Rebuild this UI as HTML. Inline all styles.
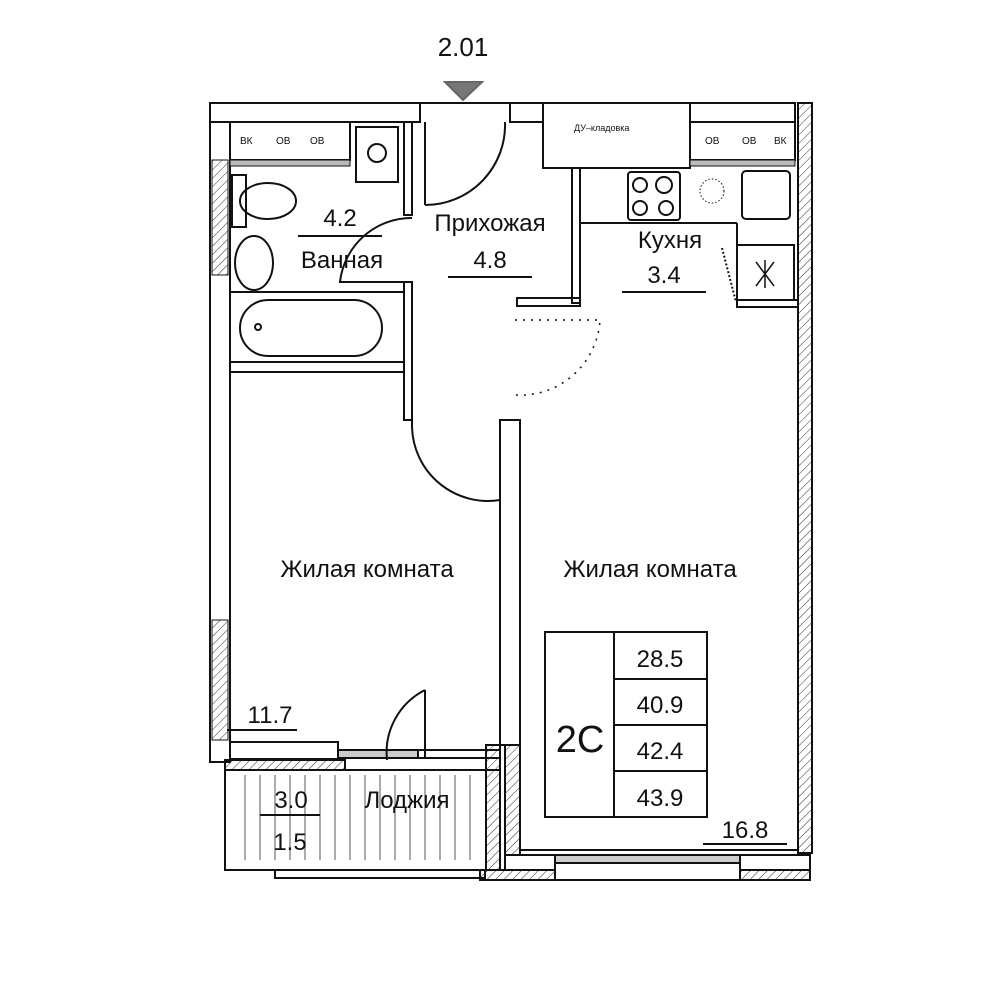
<!DOCTYPE html>
<html><head><meta charset="utf-8"><style>
html,body{margin:0;padding:0;background:#fff}
svg{display:block}
text{font-family:"Liberation Sans",sans-serif;fill:#111}
</style></head><body>
<svg width="1000" height="1000" viewBox="0 0 1000 1000" xmlns="http://www.w3.org/2000/svg">
<defs>
<pattern id="h" width="6" height="6" patternUnits="userSpaceOnUse" patternTransform="rotate(45)">
<line x1="0" y1="0" x2="0" y2="6" stroke="#333" stroke-width="1"/></pattern>
</defs>
<g fill="none" stroke="#111" stroke-width="2">
<!-- title -->
<polygon points="445,82 482,82 463,100" fill="#777" stroke="#666"/>
<!-- outer top wall -->
<rect x="210" y="103" width="210" height="19"/>
<rect x="510" y="103" width="33" height="19"/>
<rect x="543" y="103" width="147" height="65"/>
<rect x="690" y="103" width="105" height="19"/>
<line x1="420" y1="103" x2="510" y2="103"/>
<!-- left wall -->
<rect x="210" y="122" width="20" height="640"/>
<rect x="212" y="160" width="16" height="115" fill="url(#h)" stroke-width="1"/>
<rect x="212" y="620" width="16" height="120" fill="url(#h)" stroke-width="1"/>
<!-- right wall -->
<rect x="798" y="103" width="14" height="750" fill="url(#h)"/>
<!-- bathroom fixtures -->
<rect x="230" y="122" width="120" height="38"/>
<rect x="230" y="160" width="120" height="6" fill="#bbb" stroke-width="1"/>
<rect x="356" y="127" width="42" height="55"/>
<circle cx="377" cy="153" r="9"/>
<rect x="232" y="175" width="14" height="52"/>
<ellipse cx="268" cy="201" rx="28" ry="18"/>
<ellipse cx="254" cy="263" rx="19" ry="27"/>
<rect x="230" y="292" width="174" height="70"/>
<rect x="240" y="300" width="142" height="56" rx="28"/>
<circle cx="258" cy="327" r="3"/>
<rect x="230" y="362" width="174" height="10"/>
<!-- bathroom right wall / door -->
<rect x="404" y="122" width="8" height="93"/>
<path d="M412,218 A72,72 0 0 0 340,282 L405,282"/>
<rect x="404" y="282" width="8" height="138"/>
<!-- hall entry door -->
<line x1="425" y1="122" x2="425" y2="205"/>
<path d="M505,122 A80,80 0 0 1 425,205"/>
<!-- hall right wall -->
<rect x="572" y="168" width="8" height="135"/>
<rect x="517" y="298" width="63" height="8"/>
<!-- dotted arc -->
<path d="M515,320 L600,320 A80,80 0 0 1 515,395" stroke-dasharray="2,6" stroke-width="1.5"/>
<!-- kitchen -->
<rect x="690" y="122" width="105" height="38"/>
<rect x="690" y="160" width="105" height="6" fill="#bbb" stroke-width="1"/>
<rect x="628" y="172" width="52" height="48" rx="3"/>
<circle cx="640" cy="185" r="7"/><circle cx="664" cy="185" r="8"/>
<circle cx="640" cy="208" r="7"/><circle cx="666" cy="208" r="7"/>
<circle cx="712" cy="191" r="12" stroke-dasharray="1.5,2" stroke-width="1"/>
<rect x="742" y="171" width="48" height="48" rx="4"/>
<line x1="580" y1="223" x2="737" y2="223"/>
<line x1="737" y1="223" x2="737" y2="245"/>
<rect x="737" y="245" width="57" height="55"/>
<path d="M756,262 L774,286 M774,262 L756,286 M765,260 L765,288" stroke-width="1.5"/>
<rect x="737" y="300" width="61" height="7"/>
<line x1="722" y1="248" x2="736" y2="302" stroke-dasharray="2,2"/>
<!-- left room door -->
<path d="M412,420 L412,427 A76,76 0 0 0 500,500 L500,420"/>
<rect x="500" y="420" width="20" height="325"/>
<!-- left room bottom -->
<rect x="230" y="742" width="108" height="17"/>
<rect x="338" y="750" width="80" height="8" fill="#ccc"/>
<rect x="225" y="760" width="120" height="10" fill="url(#h)"/>
<line x1="425" y1="757" x2="425" y2="690"/>
<path d="M425,690 A70,70 0 0 0 387,760"/>
<rect x="418" y="750" width="82" height="8"/>
<!-- loggia -->
<rect x="225" y="770" width="275" height="100"/>
<g stroke-width="1" stroke="#555">
<line x1="245" y1="775" x2="245" y2="860"/><line x1="260" y1="775" x2="260" y2="860"/>
<line x1="275" y1="775" x2="275" y2="860"/><line x1="290" y1="775" x2="290" y2="860"/>
<line x1="305" y1="775" x2="305" y2="860"/><line x1="320" y1="775" x2="320" y2="860"/>
<line x1="335" y1="775" x2="335" y2="860"/><line x1="350" y1="775" x2="350" y2="860"/>
<line x1="365" y1="775" x2="365" y2="860"/><line x1="380" y1="775" x2="380" y2="860"/>
<line x1="395" y1="775" x2="395" y2="860"/><line x1="410" y1="775" x2="410" y2="860"/>
<line x1="425" y1="775" x2="425" y2="860"/><line x1="440" y1="775" x2="440" y2="860"/>
<line x1="455" y1="775" x2="455" y2="860"/><line x1="470" y1="775" x2="470" y2="860"/>
</g>
<rect x="275" y="870" width="210" height="8"/>
<rect x="486" y="745" width="14" height="125" fill="url(#h)"/>
<rect x="505" y="745" width="15" height="110" fill="url(#h)"/>
<!-- right room bottom -->
<line x1="520" y1="850" x2="798" y2="850"/>
<rect x="505" y="855" width="50" height="15"/>
<rect x="555" y="855" width="185" height="8" fill="#ccc"/>
<rect x="740" y="855" width="70" height="15"/>
<rect x="480" y="870" width="75" height="10" fill="url(#h)"/>
<rect x="740" y="870" width="70" height="10" fill="url(#h)"/>
<line x1="555" y1="880" x2="740" y2="880"/>
<!-- table -->
<rect x="545" y="632" width="162" height="185"/>
<line x1="614" y1="632" x2="614" y2="817"/>
<line x1="614" y1="679" x2="707" y2="679"/>
<line x1="614" y1="725" x2="707" y2="725"/>
<line x1="614" y1="771" x2="707" y2="771"/>
<!-- underlines -->
<line x1="298" y1="236" x2="382" y2="236"/>
<line x1="448" y1="277" x2="532" y2="277"/>
<line x1="622" y1="292" x2="706" y2="292"/>
<line x1="227" y1="730" x2="297" y2="730"/>
<line x1="260" y1="815" x2="320" y2="815"/>
<line x1="703" y1="844" x2="787" y2="844"/>
</g>
<g font-size="10">
<text x="240" y="144">ВК</text><text x="276" y="144">ОВ</text><text x="310" y="144">ОВ</text>
<text x="574" y="131" font-size="9">ДУ–кладовка</text>
<text x="705" y="144">ОВ</text><text x="742" y="144">ОВ</text><text x="774" y="144">ВК</text>
</g>
<text x="463" y="56" font-size="26" text-anchor="middle">2.01</text>
<text x="340" y="226" font-size="24" text-anchor="middle">4.2</text>
<text x="342" y="268" font-size="24" text-anchor="middle">Ванная</text>
<text x="490" y="231" font-size="24" text-anchor="middle">Прихожая</text>
<text x="490" y="268" font-size="24" text-anchor="middle">4.8</text>
<text x="670" y="248" font-size="24" text-anchor="middle">Кухня</text>
<text x="664" y="283" font-size="24" text-anchor="middle">3.4</text>
<text x="367" y="577" font-size="24" text-anchor="middle">Жилая комната</text>
<text x="650" y="577" font-size="24" text-anchor="middle">Жилая комната</text>
<text x="270" y="723" font-size="24" text-anchor="middle">11.7</text>
<text x="291" y="808" font-size="24" text-anchor="middle">3.0</text>
<text x="407" y="808" font-size="24" text-anchor="middle">Лоджия</text>
<text x="290" y="850" font-size="24" text-anchor="middle">1.5</text>
<text x="745" y="838" font-size="24" text-anchor="middle">16.8</text>
<text x="580" y="752" font-size="38" text-anchor="middle">2С</text>
<text x="660" y="667" font-size="24" text-anchor="middle">28.5</text>
<text x="660" y="713" font-size="24" text-anchor="middle">40.9</text>
<text x="660" y="759" font-size="24" text-anchor="middle">42.4</text>
<text x="660" y="806" font-size="24" text-anchor="middle">43.9</text>
</svg>
</body></html>
